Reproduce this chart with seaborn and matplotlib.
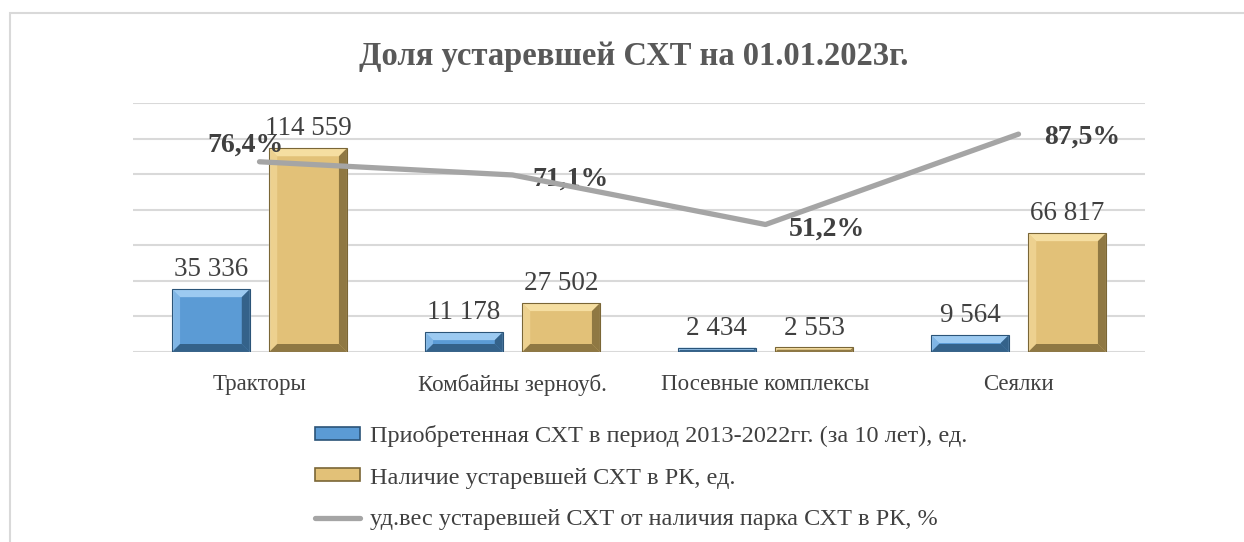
import numpy as np
import pandas as pd
import matplotlib.pyplot as plt
import seaborn as sns
from matplotlib.patches import Polygon, Rectangle
from matplotlib.lines import Line2D

# Data
categories = ['Тракторы', 'Комбайны зерноуб.', 'Посевные комплексы', 'Сеялки']
acquired = [35336, 11178, 2434, 9564]
obsolete = [114559, 27502, 2553, 66817]
share_pct = [76.4, 71.1, 51.2, 87.5]

series_names = ['Приобретенная СХТ в период 2013-2022гг. (за 10 лет), ед.',
                'Наличие устаревшей СХТ в РК, ед.']
line_name = 'уд.вес устаревшей СХТ от наличия парка СХТ в РК, %'
title = 'Доля устаревшей СХТ на 01.01.2023г.'

df = pd.DataFrame({
    'cat': categories * 2,
    'value': acquired + obsolete,
    'series': [series_names[0]] * 4 + [series_names[1]] * 4,
})

sns.set_style('white')
plt.rcParams['font.family'] = ['Liberation Serif', 'DejaVu Serif']
txt_color = '#404040'

# face, light (top/left), dark (right/bottom)
blue = ('#5B9BD5', '#A4D0F5', '#2B5478')
gold = ('#E2C178', '#F8E2A6', '#7A6636')

fig = plt.figure(figsize=(12.44, 5.42), dpi=100)
ax = fig.add_axes([133 / 1244, 1 - 352 / 542, (1145 - 133) / 1244, (352 - 103) / 542])

sns.barplot(data=df, x='cat', y='value', hue='series', order=categories,
            hue_order=series_names, palette=[blue[0], gold[0]], saturation=1,
            width=0.768, gap=0.2, ax=ax, legend=False, zorder=2)

ax.set_xlim(-0.5, len(categories) - 0.5)
ax.set_ylim(0, 140000)
ax.set_yticks(np.arange(0, 140001, 20000))
ax.yaxis.grid(True, color='#D9D9D9', linewidth=1.5, zorder=0)
ax.set_axisbelow(True)
ax.set_xlabel('')
ax.set_ylabel('')
for s in ax.spines.values():
    s.set_visible(False)

# value labels
for cont, vals in zip(ax.containers, [acquired, obsolete]):
    ax.bar_label(cont, labels=[f'{v:,}'.replace(',', ' ') for v in vals],
                 padding=5, fontsize=19.5, color=txt_color)

# secondary axis line
ax2 = ax.twinx()
sns.lineplot(x=list(range(len(categories))), y=share_pct, ax=ax2, color='#A5A5A5',
             linewidth=3.8, solid_capstyle='round', zorder=5)
ax2.set_ylim(0, 100)
ax2.set_xlim(ax.get_xlim())
ax2.axis('off')

ax.tick_params(axis='y', left=False, right=False, labelleft=False)
ax.tick_params(axis='x', bottom=False, labelsize=16.5, labelcolor=txt_color, pad=12)

# bevel effect on every bar
fig.canvas.draw()
to_px = ax.transData
to_data = ax.transData.inverted()
for cont, pal in zip(ax.containers, [blue, gold]):
    for bar in cont:
        x0, y0 = to_px.transform((bar.get_x(), 0))
        x1, y1 = to_px.transform((bar.get_x() + bar.get_width(), bar.get_height()))
        b = min(8, (y1 - y0) / 2, (x1 - x0) / 2)
        outer = [(x0, y0), (x1, y0), (x1, y1), (x0, y1)]
        inner = [(x0 + b, y0 + b), (x1 - b, y0 + b), (x1 - b, y1 - b), (x0 + b, y1 - b)]
        sides = [
            ([outer[3], outer[2], inner[2], inner[3]], pal[1], 0.9),  # top
            ([outer[0], outer[3], inner[3], inner[0]], pal[1], 0.5),  # left
            ([outer[1], outer[2], inner[2], inner[1]], pal[2], 0.8),  # right
            ([outer[0], outer[1], inner[1], inner[0]], pal[2], 0.8),  # bottom
        ]
        for pts, c, a in sides:
            ax.add_patch(Polygon(to_data.transform(pts), closed=True, facecolor=c,
                                 edgecolor='none', alpha=a, zorder=3))
        ax.add_patch(Rectangle((bar.get_x(), 0), bar.get_width(), bar.get_height(),
                               fill=False, edgecolor=pal[2], linewidth=0.8, zorder=4))

offsets = [(-10, 12), (42, -3), (44, -3), (46, -2)]
for i, (v, off) in enumerate(zip(share_pct, offsets)):
    ax2.annotate(f'{v:.1f}%'.replace('.', ','), (i, v), xytext=off,
                 textcoords='offset points', ha='center', va='center',
                 fontsize=20, fontweight='bold', color=txt_color)

fig.text(0.509, 1 - 56 / 542, title, ha='center', va='center', fontsize=23.5,
         fontweight='bold', color='#595959')

# legend below
handles = [
    Rectangle((0, 0), 1, 1, facecolor=blue[0], edgecolor=blue[2], linewidth=1.2),
    Rectangle((0, 0), 1, 1, facecolor=gold[0], edgecolor=gold[2], linewidth=1.2),
    Line2D([0], [0], color='#A5A5A5', linewidth=3.8, solid_capstyle='round'),
]
fig.legend(handles, series_names + [line_name], loc='upper left',
           bbox_to_anchor=(293 / 1244, 1 - 403 / 542), frameon=False, fontsize=17.5,
           labelcolor=txt_color, handlelength=1.85, handleheight=0.45,
           handletextpad=0.4, labelspacing=0.85)

# outer chart frame
fig.patches.append(Rectangle((10 / 1244, -0.1), 1.2, 1 - 13 / 542 + 0.1,
                             transform=fig.transFigure, fill=False,
                             edgecolor='#D9D9D9', linewidth=1.5))

fig.savefig('out.png', dpi=100)
